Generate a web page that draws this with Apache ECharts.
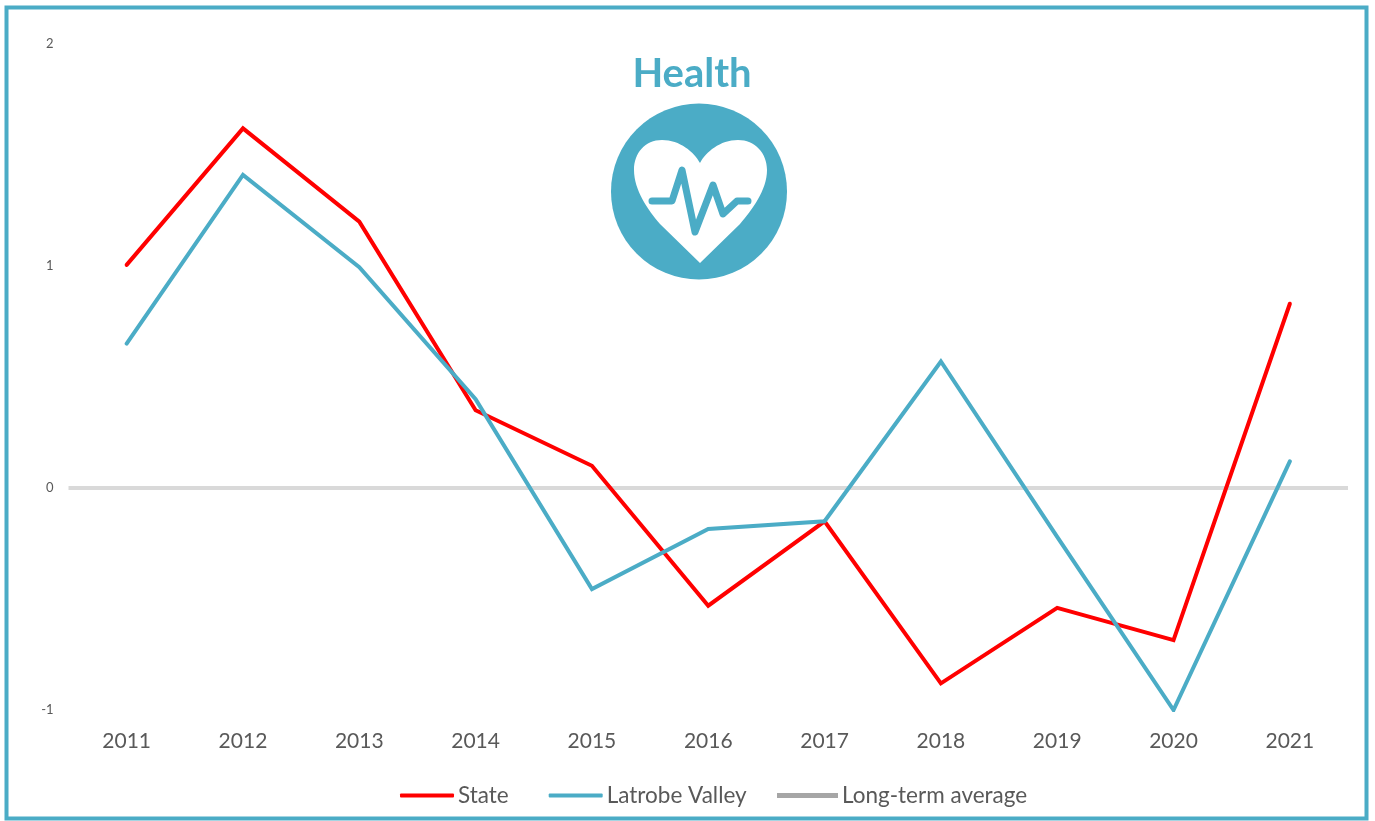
<!DOCTYPE html>
<html><head><meta charset="utf-8">
<style>html,body{margin:0;padding:0;background:#fff}#c{width:1375px;height:821px}</style>
<script src="https://cdn.jsdelivr.net/npm/echarts@6/dist/echarts.min.js"></script>
</head><body><div id="c"></div>
<script>
const years = ['2011','2012','2013','2014','2015','2016','2017','2018','2019','2020','2021'];
const state = [1.005,1.62,1.20,0.35,0.10,-0.53,-0.15,-0.88,-0.54,-0.685,0.83];
const latrobe = [0.65,1.41,0.995,0.40,-0.455,-0.185,-0.15,0.57,-0.22,-1.0,0.12];
const longTerm = [0,0,0,0,0,0,0,0,0,0,0];
const TEAL = '#4BACC6', RED = '#FF0000', GREY='#D9D9D9', TEXT='#595959';
echarts.graphic.registerShape('heart', echarts.graphic.extendShape({
  shape:{},
  buildPath(ctx){
    ctx.moveTo(700,163);
    ctx.bezierCurveTo(694,152,680,140,662,140);
    ctx.bezierCurveTo(645,140,634,153,634,170);
    ctx.bezierCurveTo(634,190,648,210,660,224);
    ctx.lineTo(700,263);
    ctx.lineTo(740,224);
    ctx.bezierCurveTo(752,210,767,190,767,170);
    ctx.bezierCurveTo(767,153,755,140,738,140);
    ctx.bezierCurveTo(720,140,706,152,700,163);
    ctx.closePath();
  }
}));
const chart = echarts.init(document.getElementById('c'));
const legendText = {color:TEXT,fontSize:22.5,fontFamily:'Lato',padding:[0,0,0,-1]};
chart.setOption({
  animation:false,
  backgroundColor:'#fff',
  textStyle:{fontFamily:'Lato'},
  grid:{left:68.5,right:27,top:44,bottom:111,containLabel:false},
  xAxis:{type:'category',data:years,boundaryGap:true,position:'bottom',
    axisLine:{show:false,onZero:false},axisTick:{show:false},
    axisLabel:{color:TEXT,fontSize:21,fontFamily:'Lato',margin:21}},
  yAxis:{type:'value',min:-1,max:2,interval:1,
    axisLine:{show:false},axisTick:{show:false},splitLine:{show:false},
    axisLabel:{color:TEXT,fontSize:13,fontFamily:'Lato',margin:15,padding:[2,0,0,0]}},
  legend:[
    {left:395,top:779,itemWidth:54,itemHeight:4,itemGap:40,textStyle:legendText,
     data:[
      {name:'State',icon:'roundRect',itemStyle:{color:RED}},
      {name:'Latrobe Valley',icon:'roundRect',itemStyle:{color:TEAL}}
     ]},
    {left:772,top:779,itemWidth:61,itemHeight:5,textStyle:legendText,
     data:[{name:'Long-term average',icon:'rect',itemStyle:{color:'#A6A6A6'}}]}
  ],
  series:[
    {name:'Long-term average',type:'line',data:longTerm,symbol:'none',z:1,lineStyle:{color:GREY,width:4},itemStyle:{color:GREY},
     markLine:{silent:true,z:1,symbol:'none',label:{show:false},lineStyle:{color:GREY,width:4,type:'solid'},data:[{yAxis:0}]}},
    {name:'State',type:'line',data:state,symbol:'none',z:3,lineStyle:{color:RED,width:4,cap:'round',join:'miter'},itemStyle:{color:RED}},
    {name:'Latrobe Valley',type:'line',data:latrobe,symbol:'none',z:4,lineStyle:{color:TEAL,width:4,cap:'round',join:'miter'},itemStyle:{color:TEAL}}
  ],
  graphic:[
    {type:'rect',silent:true,z:-1,shape:{x:6.5,y:7.5,width:1360,height:811},style:{fill:'none',stroke:TEAL,lineWidth:4}},
    {type:'text',silent:true,x:692,y:74,style:{text:'Health',fill:TEAL,font:'bold 40px Lato',textAlign:'center',textVerticalAlign:'middle'}},
    {type:'circle',silent:true,shape:{cx:699,cy:191.5,r:88},style:{fill:TEAL}},
    {type:'heart',silent:true,style:{fill:'#fff'}},
    {type:'polyline',silent:true,shape:{points:[[652,201],[672,201],[682,170],[695,232],[713,185],[723,214],[737,201],[748,201]]},style:{fill:'none',stroke:TEAL,lineWidth:7,lineJoin:'round',lineCap:'round'}}
  ]
});
</script></body></html>
